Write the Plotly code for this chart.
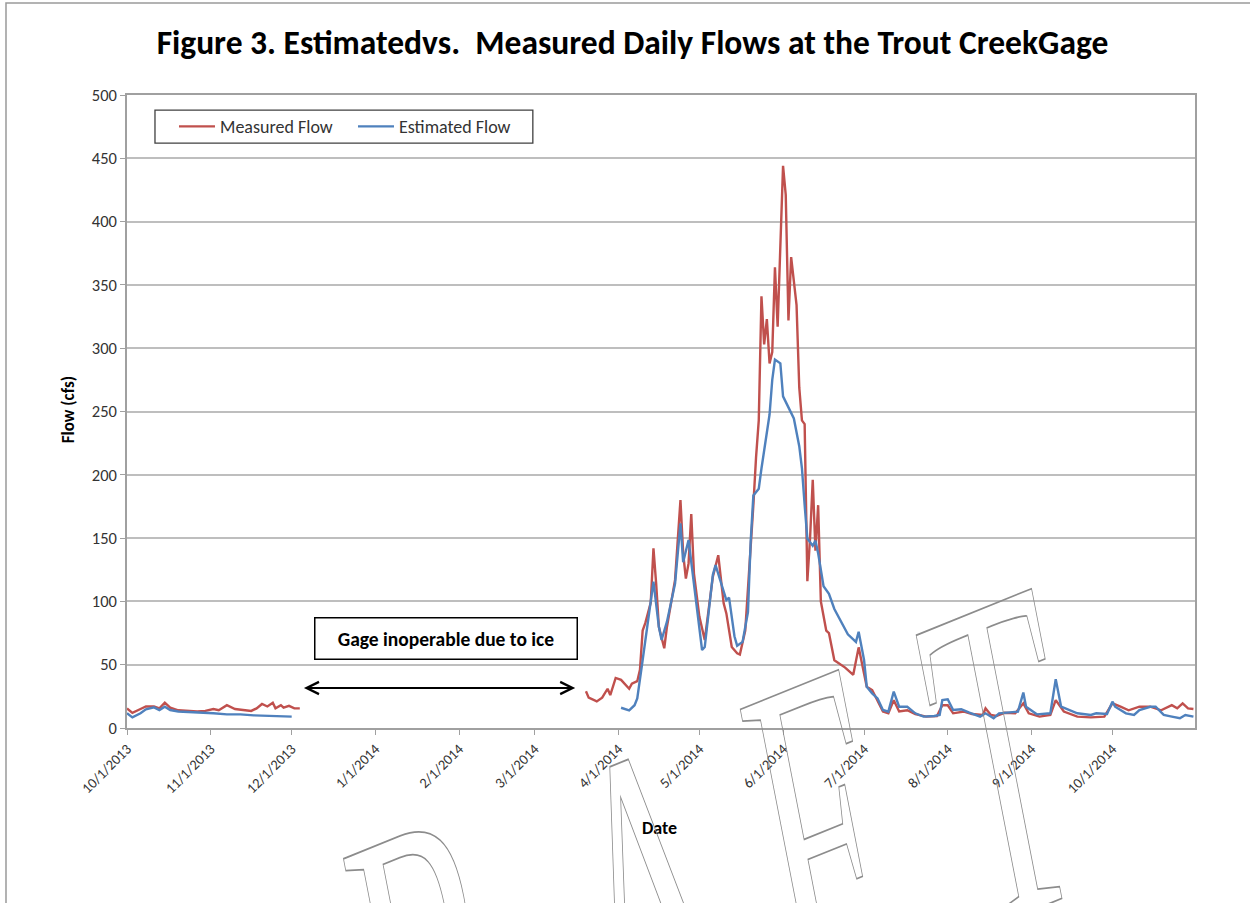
import pandas as pd
import plotly.graph_objects as go

START = pd.Timestamp("2013-10-01")

# ---- Data (days since 2013-10-01, flow in cfs) ----
measured_days_fall = [0, 2, 5, 7, 10, 12, 14, 16, 19, 22, 26, 29, 32, 34, 37, 40, 43, 46, 48, 50,
                      52, 54, 55, 57, 58, 60, 62, 64]
measured_fall = [15.5, 12, 15, 17, 17, 15.5, 20, 16, 14, 13.5, 13, 13.5, 15, 14, 18, 15, 14, 13.5, 15.5, 19,
                 17, 20, 15.5, 18, 16, 17.5, 15.5, 15.5]

measured_days_spring = [170, 171, 174, 176, 178, 179, 181, 183, 186, 187, 189, 190, 191, 192, 194, 195, 196,
                        197, 199, 200, 203, 205, 206, 207, 208, 209, 210, 212, 214, 217, 219, 221, 222, 224,
                        226, 227, 229, 231, 232, 233, 234, 235, 236, 237, 238, 239, 240, 241, 242, 243, 244,
                        245, 246, 248, 249, 250, 251, 252, 253, 254, 255, 256, 257, 259, 260, 262, 266, 269,
                        271, 273, 274, 276, 278, 280, 282, 284, 286, 289, 292, 296, 300, 302, 304, 306, 310,
                        313, 317, 318, 320, 322, 325, 329, 332, 334, 338, 342, 344, 347, 352, 357, 362, 365,
                        368, 371, 375, 379, 383, 387, 389, 391, 393, 395]
measured_spring = [29, 24, 21, 24, 31, 26, 39.5, 38, 31, 35, 37, 46, 77, 83, 99, 142, 114,
                   80, 63, 80, 117, 180, 138, 118, 130, 169, 122, 88, 69.5, 119.5, 136.5, 98.5, 90.5, 64,
                   59, 58, 77, 141, 176, 214, 243, 341, 303, 323, 288, 297, 364, 317, 389, 444, 421,
                   322, 372, 334, 269, 243, 240, 116, 150, 196, 140, 176, 100, 77, 75, 53.5, 47.7, 42,
                   63.7, 43, 32.6, 30, 22, 13, 11.6, 22, 13, 14, 11, 9, 9.5, 18, 18, 11.6, 13,
                   11, 10.3, 15.5, 10.3, 9.5, 12, 11.6, 19.5, 11.6, 9, 10.3, 22, 13, 9, 8.4, 9, 19.5,
                   16.8, 14, 16.8, 16.8, 14, 18, 15.5, 19.5, 15.5, 15]

estimated_days_fall = [0, 2, 5, 7, 10, 12, 14, 16, 19, 23, 28, 32, 37, 42, 47, 52, 57, 61]
estimated_fall = [11.6, 8.4, 11.6, 14.8, 16.3, 14.2, 16.8, 14.2, 13, 12.6, 12.6, 11.6, 10.8, 10.8, 10, 9.7,
                  9.5, 9]

estimated_days_spring = [183, 186, 188, 189, 191, 193, 195, 197, 198, 200, 203, 205, 206, 208, 210, 213, 214,
                         217, 218, 220, 222, 223, 225, 226, 228, 230, 231, 232, 234, 235, 237, 238, 239, 240,
                         242, 243, 244, 246, 247, 249, 250, 251, 252, 254, 255, 256, 258, 260, 262, 267, 270,
                         271, 273, 274, 276, 278, 280, 282, 284, 286, 289, 292, 295, 299, 301, 302, 304, 306,
                         309, 312, 316, 318, 321, 323, 327, 330, 332, 333, 337, 342, 344, 346, 352, 357, 359,
                         363, 365, 366, 370, 373, 375, 379, 381, 384, 387, 390, 392, 395]
estimated_spring = [16, 14, 18, 23.4, 53.7, 85, 115.6, 80, 69.5, 84, 114, 161.7, 131, 148.5, 114, 61.6, 64,
                    121, 128.7, 114, 101, 103, 72.5, 65, 68, 91.5, 147, 183.6, 189, 205, 234.5, 247.6, 275, 291,
                    288, 262, 257.6, 249, 244.5, 222.6, 205, 176, 149.7, 144, 148, 138, 112, 106, 94, 74, 68,
                    76, 53.7, 32.6, 27.4, 23.4, 14.2, 12.9, 28.7, 16.8, 16.8, 11.6, 9, 9.5, 10.3, 22, 22.7, 14.2,
                    14.8, 12.1, 9, 11.6, 7.7, 11.6, 12.1, 12.9, 28, 16.8, 10.8, 11.6, 38.5, 16.8, 11.6, 10.3, 11.6,
                    11, 20.8, 16.8, 11.6, 10.3, 14.2, 16.8, 16.8, 10.3, 9, 7.7, 10.3, 9]

tick_dates = ["2013-10-01", "2013-11-01", "2013-12-01", "2014-01-01", "2014-02-01", "2014-03-01",
              "2014-04-01", "2014-05-01", "2014-06-01", "2014-07-01", "2014-08-01", "2014-09-01",
              "2014-10-01"]
tick_labels = ["10/1/2013", "11/1/2013", "12/1/2013", "1/1/2014", "2/1/2014", "3/1/2014", "4/1/2014",
               "5/1/2014", "6/1/2014", "7/1/2014", "8/1/2014", "9/1/2014", "10/1/2014"]

gap_start_date = "2013-12-05"
gap_end_date = "2014-03-16"
gap_label = "Gage inoperable due to ice"

# watermark letters visible in the picture and their centres (paper coordinates)
watermark_letters = ["R", "A", "F", "T"]
watermark_x = [0.2865, 0.4888, 0.6479, 0.8193]
watermark_y = [-0.2765, -0.1675, -0.0474, 0.0742]


def to_dates(days):
    return [START + pd.Timedelta(days=d) for d in days]


def join(days_a, vals_a, days_b, vals_b):
    x = to_dates(days_a) + [None] + to_dates(days_b)
    y = list(vals_a) + [None] + list(vals_b)
    return x, y


mx, my = join(measured_days_fall, measured_fall, measured_days_spring, measured_spring)
ex, ey = join(estimated_days_fall, estimated_fall, estimated_days_spring, estimated_spring)

FONT = "Carlito, 'Liberation Sans Narrow', 'DejaVu Sans Condensed', Arial, sans-serif"
RED = "#C0504D"
BLUE = "#4F81BD"
GRID = "#BEBEBE"

fig = go.Figure()
fig.add_trace(go.Scatter(x=mx, y=my, mode="lines", name="Measured Flow",
                         line=dict(color=RED, width=2.4), connectgaps=False))
fig.add_trace(go.Scatter(x=ex, y=ey, mode="lines", name="Estimated Flow",
                         line=dict(color=BLUE, width=2.4), connectgaps=False))

fig.update_layout(
    width=1250, height=903,
    margin=dict(l=127, r=55, t=95, b=175),
    paper_bgcolor="white", plot_bgcolor="white",
    font=dict(family=FONT, color="#222"),
    title=dict(text="<b>Figure 3. Estimatedvs.  Measured Daily Flows at the Trout CreekGage</b>",
               x=0.506, xanchor="center", y=0.953, yanchor="middle",
               font=dict(size=33.5, color="black", family=FONT)),
    showlegend=True,
    legend=dict(orientation="h", x=0.044, y=0.950, xanchor="left", yanchor="middle",
                bgcolor="rgba(0,0,0,0)", borderwidth=0,
                font=dict(size=18, color="#333"), entrywidth=128, itemwidth=36),
)

fig.update_xaxes(
    type="date",
    range=[START, pd.Timestamp("2014-10-31 14:00")],
    tickmode="array", tickvals=tick_dates, ticktext=tick_labels, tickangle=-45,
    tickfont=dict(size=14.5, color="#333"),
    showgrid=False, showline=True, linecolor="#A0A0A0", linewidth=1.5, mirror=True,
    ticks="outside", ticklen=5, tickcolor="#A0A0A0", zeroline=False,
)
fig.update_yaxes(
    range=[0, 500], tick0=0, dtick=50,
    tickfont=dict(size=16.5, color="#333"),
    showgrid=True, gridcolor=GRID, gridwidth=1.5,
    showline=True, linecolor="#A0A0A0", linewidth=1.5, mirror=True,
    ticks="outside", ticklen=5, tickcolor="#A0A0A0", zeroline=False,
)

# legend frame
fig.add_shape(type="rect", xref="paper", yref="paper", x0=0.0262, x1=0.380, y0=0.924, y1=0.976,
              line=dict(color="#404040", width=1.3), fillcolor="white", layer="above")

# axis titles
fig.add_annotation(text="<b>Flow (cfs)</b>", xref="paper", yref="paper", x=-0.0552, y=0.502,
                   xanchor="center", yanchor="middle",
                   textangle=-90, showarrow=False, font=dict(size=17, color="black"))
fig.add_annotation(text="<b>Date</b>", xref="paper", yref="paper", x=0.499, y=-0.158,
                   xanchor="center", yanchor="middle",
                   showarrow=False, font=dict(size=18, color="black"))

# gap note box and double arrow
fig.add_annotation(text="<b>" + gap_label + "</b>", x="2014-01-27 07:00", y=71, xref="x", yref="y",
                   showarrow=False, width=255, height=34, borderpad=3, bordercolor="black", borderwidth=1.5,
                   bgcolor="white", font=dict(size=19.5, color="black"))
fig.add_annotation(x=gap_end_date, y=31.6, ax=gap_start_date, ay=31.6, xref="x", yref="y",
                   axref="x", ayref="y", text="", showarrow=True, arrowside="end+start",
                   arrowhead=5, startarrowhead=5, arrowsize=1.1, startarrowsize=1.1,
                   arrowwidth=2.2, arrowcolor="black")

# outlined watermark letters (outline style applied after render)
for letter, wx, wy in zip(watermark_letters, watermark_x, watermark_y):
    fig.add_annotation(text=letter, xref="paper", yref="paper", x=wx, y=wy,
                       xanchor="center", yanchor="middle", textangle=-22, showarrow=False,
                       font=dict(size=240, color="rgba(140,140,140,0.9)",
                                 family="'Liberation Serif', serif"))

# outer chart-area border
fig.add_shape(type="rect", xref="paper", yref="paper", x0=-0.1133, x1=1.06, y0=-0.35, y1=1.1453,
              line=dict(color="#9A9A9A", width=1.5), fillcolor="rgba(0,0,0,0)", layer="below")

post = """
document.body.style.margin = '0';
var wm = %s;
document.querySelectorAll('text.annotation-text').forEach(function (t) {
  if (wm.indexOf(t.textContent) >= 0) {
    t.style.fill = 'none';
    t.style.stroke = '#8c8c8c';
    t.style.strokeWidth = '0.9px';
    var b = t.getBBox();
    var cx = b.x + b.width / 2;
    var cy = b.y + b.height * 0.207;
    var prev = t.getAttribute('transform') || '';
    t.setAttribute('transform', prev + ' translate(' + cx + ',' + cy + ') skewX(-11) scale(0.9,1.9) translate(' +
                   (-cx) + ',' + (-cy) + ')');
  }
});
""" % str(watermark_letters)

fig.write_html("out.html", post_script=post, config={"displayModeBar": False})
